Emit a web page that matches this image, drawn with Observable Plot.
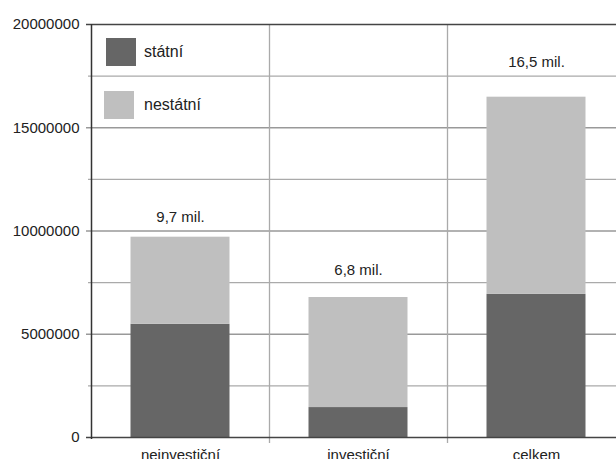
<!DOCTYPE html>
<html>
<head>
<meta charset="utf-8">
<script src="https://cdn.jsdelivr.net/npm/d3@7"></script>
<script src="https://cdn.jsdelivr.net/npm/@observablehq/plot@0.6"></script>
<style>
  html, body { margin: 0; padding: 0; background: white; }
  #wrap { position: relative; width: 616px; height: 459px; overflow: hidden; font-family: "Liberation Sans", Arial, Helvetica, sans-serif; color: #222; }
  .leg { position: absolute; display: flex; align-items: center; font-size: 16px; }
  .sw { width: 30px; height: 28px; margin-right: 8px; }
</style>
</head>
<body>
<div id="wrap"></div>
<script>
const categories = ["neinvestiční", "investiční", "celkem"];
const series = ["státní", "nestátní"];
const statni = [5480000, 1450000, 6930000];
const nestatni = [4220000, 5330000, 9550000];
const totalLabels = ["9,7 mil.", "6,8 mil.", "16,5 mil."];
const labelY = [10660000, 8090000, 18180000];
const yTicks = [0, 5000000, 10000000, 15000000, 20000000];
const majorGrid = [5000000, 10000000, 15000000];
const minorGrid = [2500000, 7500000, 12500000, 17500000];
const colors = ["#666666", "#bfbfbf"];

const data = categories.flatMap((c, i) => [
  {cat: c, series: series[0], value: statni[i]},
  {cat: c, series: series[1], value: nestatni[i]}
]);

const W = 616, H = 459, mL = 91, mR = -9, mT = 24, mB = 22;
const step = (W - mL - mR) / categories.length;
const font = "'Liberation Sans', Arial, Helvetica, sans-serif";

const chart = Plot.plot({
  width: W, height: H,
  marginLeft: mL, marginRight: mR, marginTop: mT, marginBottom: mB,
  style: {fontFamily: font, fontSize: "15px", color: "#222", background: "white", overflow: "hidden"},
  x: {domain: categories, padding: 0, label: null},
  y: {domain: [0, 20000000], label: null},
  color: {domain: series, range: colors},
  marks: [
    Plot.ruleY(minorGrid, {stroke: "#aaa", strokeWidth: 1.3, insetLeft: -3}),
    Plot.ruleY(majorGrid, {stroke: "#999", strokeWidth: 1.3, insetLeft: -5}),
    Plot.ruleX(categories.slice(1), {x: d => d, dx: -step / 2, stroke: "#aaa", strokeWidth: 1.3, insetBottom: -6}),
    Plot.barY(data, {x: "cat", y: "value", fill: "series", insetLeft: 39.5, insetRight: 39.5}),
    Plot.ruleY([20000000], {stroke: "#444", strokeWidth: 1.3, insetLeft: -5}),
    Plot.ruleY([0], {stroke: "#444", strokeWidth: 1.3, insetLeft: -5}),
    Plot.ruleX([categories[0]], {x: d => d, dx: -step / 2, stroke: "#333", strokeWidth: 1.5, insetBottom: -2}),
    Plot.text(categories, {x: d => d, y: (d, i) => labelY[i], text: (d, i) => totalLabels[i], fontSize: 15, fill: "#222"}),
    Plot.axisY({ticks: yTicks, tickFormat: d3.format("d"), tickSize: 0, tickPadding: 12, fontSize: 15, fill: "#222", label: null}),
    Plot.axisX({tickSize: 0, tickPadding: 12, fontSize: 15, fill: "#222", label: null})
  ]
});

const wrap = document.getElementById("wrap");
wrap.appendChild(chart);

const legendPos = [{left: 106, top: 38}, {left: 104, top: 91}];
series.forEach((s, i) => {
  const d = document.createElement("div");
  d.className = "leg";
  d.style.left = legendPos[i].left + "px";
  d.style.top = legendPos[i].top + "px";
  const sw = document.createElement("div");
  sw.className = "sw";
  sw.style.background = colors[i];
  if (i === 1) sw.style.marginRight = "10px";
  const t = document.createElement("span");
  t.textContent = s;
  d.appendChild(sw);
  d.appendChild(t);
  wrap.appendChild(d);
});
</script>
</body>
</html>
